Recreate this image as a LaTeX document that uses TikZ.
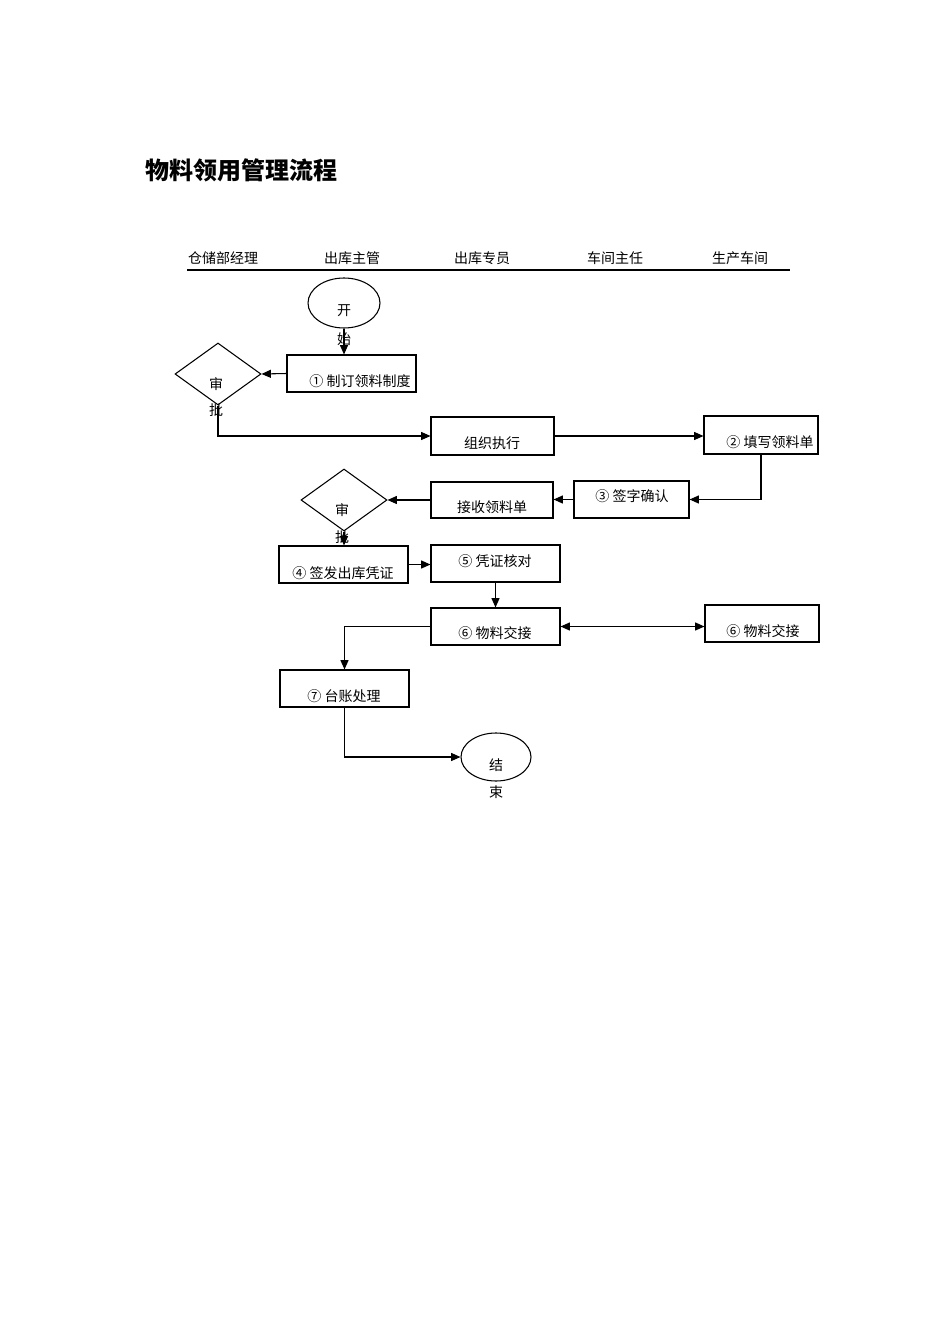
\documentclass[tikz,border=0pt]{standalone}
\usepackage{fontspec}
\setmainfont{Noto Sans CJK SC}
\usetikzlibrary{shapes.geometric,arrows.meta}
\begin{document}
\begin{tikzpicture}[x=0.75pt,y=-0.75pt,
  every node/.style={inner sep=0pt,font=\fontsize{10.5pt}{12pt}\selectfont},
  box/.style={draw,line width=0.8pt,minimum width={#1*0.75pt},minimum height={37*0.75pt}},
  dia/.style={draw,line width=0.8pt,diamond,minimum width={86*0.75pt},minimum height={62*0.75pt},aspect=1.39},
  ell/.style={draw,line width=0.8pt,ellipse,minimum width={72*0.75pt},minimum height={50*0.75pt}},
  arr/.style={line width=0.8pt,-{Triangle[length=7pt,width=6pt]}},
  darr/.style={line width=0.8pt,{Triangle[length=7pt,width=6pt]}-{Triangle[length=7pt,width=6pt]}},
  ln/.style={line width=0.8pt}]
\useasboundingbox (0,0) rectangle (950,1344);
\node[anchor=west,font=\fontsize{18pt}{20pt}\selectfont\bfseries] (title) at (145,170) {物料领用管理流程};
\node (h1) at (223,258) {仓储部经理};
\node (h2) at (352,258) {出库主管};
\node (h3) at (482,258) {出库专员};
\node (h4) at (615,258) {车间主任};
\node (h5) at (740,258) {生产车间};
\coordinate (hl) at (187,270); \coordinate (hr) at (790,270);
\draw[ln] (hl) -- (hr);
% nodes
\node[ell] (start) at (344,303) {};
\node at (344,311) {开}; \node at (344,339) {始};
\node[box=129] (b1) at (351.5,373.5) {};
\node at (360,381) {① 制订领料制度};
\node[dia] (d1) at (218,374) {};
\node at (216,384) {审}; \node at (216,410) {批};
\node[box=123,minimum height={38*0.75pt}] (bz) at (492.5,436) {};
\node at (492,443) {组织执行};
\node[box=114,minimum height={38*0.75pt}] (b2) at (761,435) {};
\node at (770,442) {② 填写领料单};
\node[box=115] (b3) at (631.5,499.5) {};
\node at (632,496) {③ 签字确认};
\node[box=122,minimum height={36*0.75pt}] (bj) at (492,500) {};
\node at (492,507) {接收领料单};
\node[dia] (d2) at (344,500) {};
\node at (342,510) {审}; \node at (342,537) {批};
\node[box=129] (b4) at (343.5,564.5) {};
\node at (343,573) {④ 签发出库凭证};
\node[box=129] (b5) at (495.5,563.5) {};
\node at (495,561) {⑤ 凭证核对};
\node[box=129] (b6) at (495.5,626.5) {};
\node at (495,633) {⑥ 物料交接};
\node[box=114] (b6b) at (762,623.5) {};
\node at (763,631) {⑥ 物料交接};
\node[box=129] (b7) at (344.5,688.5) {};
\node at (344,696) {⑦ 台账处理};
\node[ell,minimum width={70*0.75pt},minimum height={48*0.75pt}] (end) at (496,757) {};
\node at (496,765) {结}; \node at (496,792) {束};
% connectors
\draw[arr] (start.south) -- (b1.north -| start.south);
\draw[arr] (b1.west) -- (d1.east);
\draw[arr] (d1.south) |- (bz.west);
\draw[arr] (bz.east) -- (b2.west |- bz.east);
\draw[arr] (b2.south) |- (b3.east);
\draw[arr] (b3.west) -- (bj.east |- b3.west);
\draw[arr] (bj.west) -- (d2.east);
\draw[arr] (d2.south) -- (b4.north -| d2.south);
\draw[arr] (b4.east) -- (b5.west |- b4.east);
\draw[arr] (b5.south) -- (b6.north);
\draw[darr] (b6.east) -- (b6b.west |- b6.east);
\draw[arr] (b6.west) -| (b7.north);
\draw[arr] (b7.south) |- (end.west);
\end{tikzpicture}
\end{document}
